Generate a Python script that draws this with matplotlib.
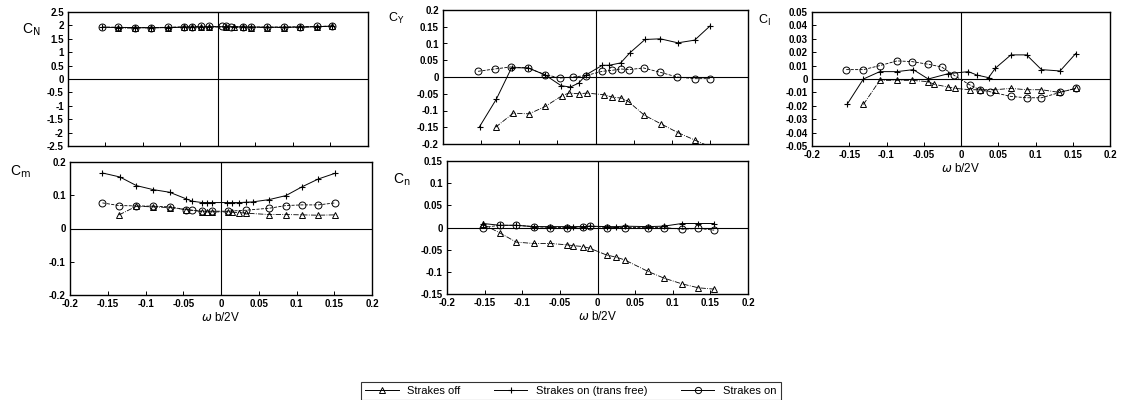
import matplotlib
matplotlib.use("Agg")
import matplotlib.pyplot as plt
from matplotlib.ticker import FuncFormatter
from matplotlib.lines import Line2D

plt.rcParams['font.family'] = ['Liberation Sans', 'DejaVu Sans']

# C_N
cn_x_off = [-0.133, -0.111, -0.089, -0.067, -0.045, -0.035, -0.023, -0.012, 0.011, 0.022, 0.033, 0.044, 0.066, 0.088, 0.110, 0.132, 0.152]
cn_off = [1.90, 1.90, 1.91, 1.92, 1.93, 1.93, 1.94, 1.94, 1.94, 1.94, 1.93, 1.92, 1.92, 1.92, 1.93, 1.95, 1.97]
cn_x_free = [-0.154, -0.133, -0.111, -0.089, -0.067, -0.045, -0.035, -0.023, -0.012, 0.011, 0.022, 0.033, 0.044, 0.066, 0.088, 0.110, 0.132, 0.152]
cn_free = [1.93, 1.92, 1.92, 1.91, 1.92, 1.93, 1.94, 1.94, 1.95, 1.95, 1.95, 1.94, 1.94, 1.93, 1.93, 1.94, 1.95, 1.97]
cn_x_on = [-0.154, -0.133, -0.111, -0.089, -0.067, -0.045, -0.035, -0.023, -0.012, 0.006, 0.011, 0.018, 0.033, 0.044, 0.066, 0.088, 0.110, 0.132, 0.152]
cn_on = [1.94, 1.93, 1.92, 1.92, 1.93, 1.95, 1.95, 1.96, 1.96, 1.96, 1.96, 1.95, 1.95, 1.94, 1.94, 1.94, 1.95, 1.96, 1.98]

# C_Y
cy_x_off = [-0.131, -0.108, -0.087, -0.066, -0.044, -0.035, -0.022, -0.011, 0.011, 0.022, 0.034, 0.043, 0.064, 0.086, 0.108, 0.130, 0.152]
cy_off = [-0.150, -0.108, -0.110, -0.088, -0.056, -0.048, -0.050, -0.048, -0.053, -0.060, -0.063, -0.073, -0.114, -0.140, -0.166, -0.188, -0.210]
cy_x_free = [-0.152, -0.130, -0.110, -0.088, -0.066, -0.045, -0.033, -0.022, -0.012, 0.009, 0.018, 0.033, 0.045, 0.065, 0.085, 0.108, 0.130, 0.150]
cy_free = [-0.148, -0.066, 0.028, 0.027, 0.006, -0.026, -0.030, -0.018, 0.007, 0.035, 0.035, 0.042, 0.072, 0.112, 0.114, 0.102, 0.110, 0.152]
cy_x_on = [-0.154, -0.132, -0.111, -0.089, -0.066, -0.046, -0.030, -0.013, 0.009, 0.022, 0.033, 0.044, 0.063, 0.085, 0.107, 0.130, 0.150]
cy_on = [0.017, 0.024, 0.030, 0.027, 0.007, -0.003, 0.000, 0.004, 0.017, 0.020, 0.024, 0.022, 0.027, 0.014, 0.000, -0.005, -0.005]

# C_l
cl_x_off = [-0.131, -0.109, -0.086, -0.066, -0.044, -0.036, -0.017, -0.008, 0.012, 0.025, 0.046, 0.067, 0.088, 0.108, 0.132, 0.154]
cl_off = [-0.019, -0.001, -0.001, -0.001, -0.002, -0.004, -0.006, -0.007, -0.008, -0.008, -0.008, -0.007, -0.008, -0.008, -0.010, -0.007]
cl_x_free = [-0.153, -0.131, -0.109, -0.086, -0.064, -0.044, -0.017, 0.010, 0.021, 0.037, 0.046, 0.067, 0.088, 0.108, 0.133, 0.154]
cl_free = [-0.019, 0.000, 0.0055, 0.0055, 0.007, 0.000, 0.004, 0.0055, 0.003, 0.001, 0.008, 0.018, 0.018, 0.007, 0.006, 0.019]
cl_x_on = [-0.154, -0.131, -0.109, -0.086, -0.066, -0.044, -0.026, -0.010, 0.012, 0.025, 0.039, 0.067, 0.088, 0.108, 0.133, 0.154]
cl_on = [0.007, 0.007, 0.010, 0.0135, 0.013, 0.011, 0.009, 0.003, -0.0045, -0.008, -0.0095, -0.013, -0.014, -0.014, -0.010, -0.007]

# C_m
cm_x_off = [-0.135, -0.112, -0.090, -0.068, -0.047, -0.025, -0.018, -0.012, 0.009, 0.015, 0.024, 0.033, 0.064, 0.086, 0.107, 0.129, 0.151]
cm_off = [0.041, 0.067, 0.065, 0.063, 0.057, 0.051, 0.050, 0.050, 0.050, 0.049, 0.048, 0.046, 0.042, 0.042, 0.041, 0.040, 0.041]
cm_x_free = [-0.157, -0.134, -0.112, -0.090, -0.068, -0.046, -0.038, -0.025, -0.018, -0.012, 0.008, 0.015, 0.024, 0.033, 0.042, 0.064, 0.086, 0.107, 0.129, 0.151]
cm_free = [0.167, 0.155, 0.129, 0.117, 0.109, 0.089, 0.082, 0.078, 0.078, 0.078, 0.078, 0.078, 0.078, 0.079, 0.080, 0.087, 0.099, 0.125, 0.149, 0.166]
cm_x_on = [-0.157, -0.135, -0.112, -0.090, -0.068, -0.047, -0.038, -0.025, -0.012, 0.009, 0.033, 0.064, 0.086, 0.107, 0.129, 0.151]
cm_on = [0.077, 0.069, 0.068, 0.067, 0.065, 0.057, 0.055, 0.052, 0.052, 0.052, 0.055, 0.061, 0.069, 0.071, 0.071, 0.077]

# C_n
cn2_x_off = [-0.152, -0.130, -0.108, -0.085, -0.063, -0.041, -0.032, -0.019, -0.010, 0.012, 0.025, 0.036, 0.067, 0.088, 0.112, 0.134, 0.155]
cn2_off = [0.007, -0.012, -0.033, -0.036, -0.036, -0.039, -0.041, -0.043, -0.047, -0.062, -0.067, -0.073, -0.099, -0.114, -0.127, -0.136, -0.139]
cn2_x_free = [-0.152, -0.130, -0.108, -0.085, -0.063, -0.041, -0.032, -0.019, -0.010, 0.012, 0.025, 0.036, 0.067, 0.088, 0.112, 0.134, 0.155]
cn2_free = [0.009, 0.005, 0.005, 0.002, 0.002, 0.002, 0.002, 0.002, 0.003, 0.002, 0.002, 0.003, 0.002, 0.003, 0.009, 0.009, 0.009]
cn2_x_on = [-0.152, -0.130, -0.108, -0.085, -0.063, -0.041, -0.019, -0.010, 0.012, 0.036, 0.067, 0.088, 0.112, 0.134, 0.155]
cn2_on = [0.000, 0.005, 0.005, 0.002, 0.000, 0.000, 0.002, 0.003, 0.000, 0.000, 0.000, 0.000, -0.004, -0.002, -0.006]

labels = ['Strakes off', 'Strakes on (trans free)', 'Strakes on']

fig = plt.figure(figsize=(11.24, 4.0), dpi=100)
W, H = 1124.0, 400.0


def make_ax(l, t, r, b):
    return fig.add_axes([l / W, 1 - b / H, (r - l) / W, (b - t) / H])


fmt = FuncFormatter(lambda v, p: '%g' % round(v, 4) if abs(v) > 1e-9 else '0')


def style(ax, ylim, yticks, xlabels=True, xlabel=None):
    ax.set_xlim(-0.2, 0.2)
    ax.set_ylim(*ylim)
    ax.set_yticks(yticks)
    ax.set_xticks([-0.2, -0.15, -0.1, -0.05, 0, 0.05, 0.1, 0.15, 0.2])
    ax.xaxis.set_major_formatter(fmt)
    ax.yaxis.set_major_formatter(fmt)
    ax.tick_params(direction='in', length=3, width=0.7, labelsize=7, pad=3)
    for lab in ax.get_xticklabels() + ax.get_yticklabels():
        lab.set_fontweight('bold')
    if not xlabels:
        ax.tick_params(labelbottom=False)
    for s in ax.spines.values():
        s.set_linewidth(1.0)
    ax.axhline(0, color='black', lw=0.8, zorder=1)
    ax.axvline(0, color='black', lw=0.8, zorder=1)
    if xlabel:
        ax.set_xlabel(xlabel, fontsize=8.5, labelpad=1)


def draw(ax, xo, yo, xf, yf, xn, yn):
    ax.plot(xo, yo, color='black', lw=0.6, ls='-.', marker='^', ms=4.5, mfc='none', mew=0.7)
    ax.plot(xf, yf, color='black', lw=0.7, ls='-', marker='+', ms=5, mew=0.8)
    ax.plot(xn, yn, color='black', lw=0.6, ls='--', marker='o', ms=5, mfc='none', mew=0.7)


xl = r'$\omega$ b/2V'

ax_cn = make_ax(68, 12, 368, 146)
draw(ax_cn, cn_x_off, cn_off, cn_x_free, cn_free, cn_x_on, cn_on)
style(ax_cn, (-2.5, 2.5), [-2.5, -2, -1.5, -1, -0.5, 0, 0.5, 1, 1.5, 2, 2.5], xlabels=False)

ax_cy = make_ax(443, 10, 748, 144)
draw(ax_cy, cy_x_off, cy_off, cy_x_free, cy_free, cy_x_on, cy_on)
style(ax_cy, (-0.2, 0.2), [-0.2, -0.15, -0.1, -0.05, 0, 0.05, 0.1, 0.15, 0.2], xlabels=False)

ax_cl = make_ax(812, 12, 1110, 146)
draw(ax_cl, cl_x_off, cl_off, cl_x_free, cl_free, cl_x_on, cl_on)
style(ax_cl, (-0.05, 0.05), [-0.05, -0.04, -0.03, -0.02, -0.01, 0, 0.01, 0.02, 0.03, 0.04, 0.05], xlabel=xl)

ax_cm = make_ax(70, 162, 372, 295)
draw(ax_cm, cm_x_off, cm_off, cm_x_free, cm_free, cm_x_on, cm_on)
style(ax_cm, (-0.2, 0.2), [-0.2, -0.1, 0, 0.1, 0.2], xlabel=xl)

ax_cn2 = make_ax(447, 161, 748, 294)
draw(ax_cn2, cn2_x_off, cn2_off, cn2_x_free, cn2_free, cn2_x_on, cn2_on)
style(ax_cn2, (-0.15, 0.15), [-0.15, -0.1, -0.05, 0, 0.05, 0.1, 0.15], xlabel=xl)

# coefficient names
fig.text(22 / W, 1 - 30 / H, r'C$_\mathrm{N}$', fontsize=10, ha='left', va='center')
fig.text(388 / W, 1 - 18 / H, r'C$_\mathrm{Y}$', fontsize=9, ha='left', va='center')
fig.text(758 / W, 1 - 20 / H, r'C$_\mathrm{l}$', fontsize=9, ha='left', va='center')
fig.text(10 / W, 1 - 172 / H, r'C$_\mathrm{m}$', fontsize=10, ha='left', va='center')
fig.text(393 / W, 1 - 180 / H, r'C$_\mathrm{n}$', fontsize=10, ha='left', va='center')

handles = [
    Line2D([], [], color='black', lw=0.7, ls='-', marker='^', ms=4, mfc='none', mew=0.7),
    Line2D([], [], color='black', lw=0.7, ls='-', marker='+', ms=5, mew=0.8),
    Line2D([], [], color='black', lw=0.7, ls='-', marker='o', ms=4.5, mfc='none', mew=0.7),
]
leg = fig.legend(handles, labels, loc='center', bbox_to_anchor=(571 / W, 1 - 391 / H), ncol=3,
                 fontsize=8, frameon=True, fancybox=False, edgecolor='black',
                 handlelength=3, columnspacing=3, borderpad=0.4, handletextpad=0.8)
leg.get_frame().set_linewidth(0.8)

fig.savefig('out.png', dpi=100)
